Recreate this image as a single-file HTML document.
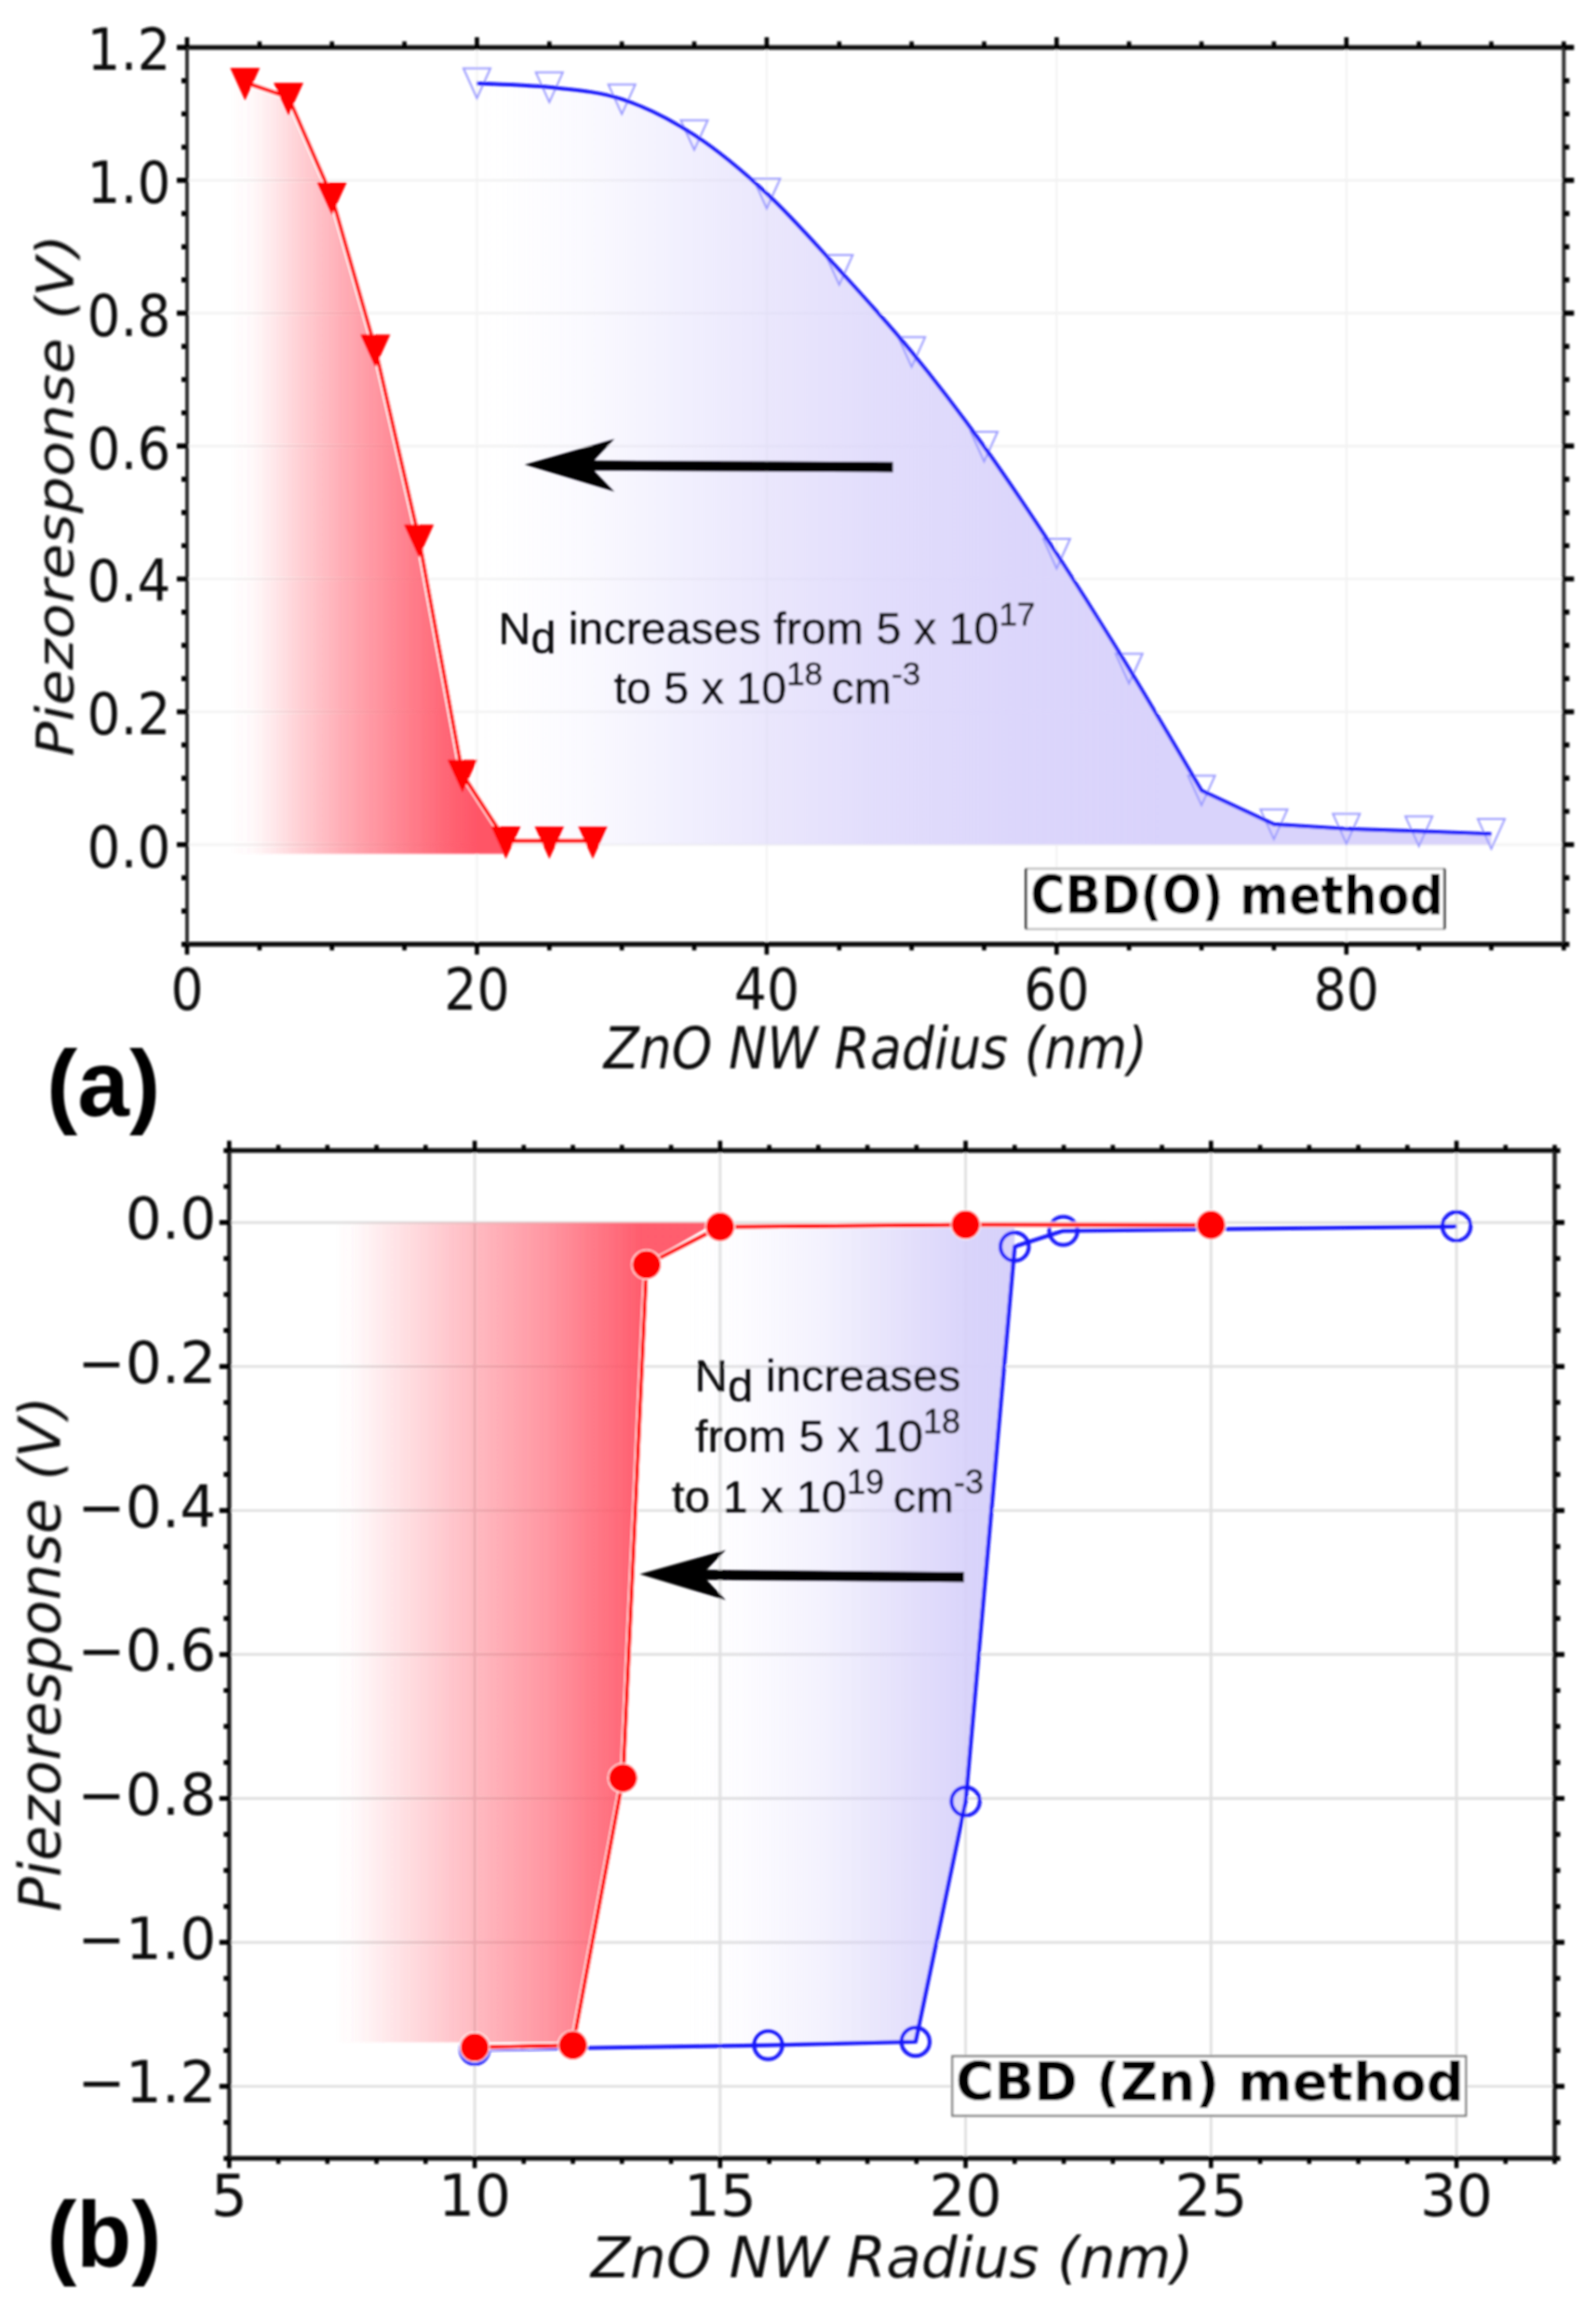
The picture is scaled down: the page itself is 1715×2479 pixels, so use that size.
<!DOCTYPE html>
<html lang="en"><head><meta charset="utf-8"><title>Piezoresponse vs ZnO NW Radius</title>
<style>
html,body{margin:0;padding:0;background:#fff;}
body{width:1715px;height:2479px;overflow:hidden;}
svg{display:block;}
.tk{font-family:"DejaVu Sans", "Liberation Sans", sans-serif;fill:#111;}
.lb{font-family:"DejaVu Sans", "Liberation Sans", sans-serif;font-style:italic;fill:#111;}
.an{font-family:"Liberation Sans", "DejaVu Sans", sans-serif;fill:#111;stroke:#111;stroke-width:0.5px;}
.bx{font-family:"DejaVu Sans", "Liberation Sans", sans-serif;font-weight:bold;fill:#000;}
.pl{font-family:"Liberation Sans","DejaVu Sans",sans-serif;font-weight:bold;fill:#000;}
</style></head><body>
<svg width="1715" height="2479" viewBox="0 0 1715 2479">
<defs>
<filter id="soft" filterUnits="userSpaceOnUse" x="0" y="0" width="1715" height="2479"><feGaussianBlur stdDeviation="0.8"/></filter>
<linearGradient id="gRa" gradientUnits="userSpaceOnUse" x1="247" y1="0" x2="515" y2="0"><stop offset="0" stop-color="#ff5466" stop-opacity="0"/><stop offset="0.09" stop-color="#ff5466" stop-opacity="0.035"/><stop offset="0.18" stop-color="#ff5466" stop-opacity="0.14"/><stop offset="0.275" stop-color="#ff5466" stop-opacity="0.27"/><stop offset="0.463" stop-color="#ff5466" stop-opacity="0.49"/><stop offset="0.679" stop-color="#ff5466" stop-opacity="0.71"/><stop offset="0.892" stop-color="#ff5466" stop-opacity="0.92"/><stop offset="1" stop-color="#ff5466" stop-opacity="1"/></linearGradient>
<linearGradient id="gBa" gradientUnits="userSpaceOnUse" x1="511" y1="0" x2="1300" y2="0"><stop offset="0" stop-color="#d9d3fb" stop-opacity="0"/><stop offset="0.06" stop-color="#d9d3fb" stop-opacity="0.03"/><stop offset="0.15" stop-color="#d9d3fb" stop-opacity="0.13"/><stop offset="0.25" stop-color="#d9d3fb" stop-opacity="0.3"/><stop offset="0.4" stop-color="#d9d3fb" stop-opacity="0.55"/><stop offset="0.54" stop-color="#d9d3fb" stop-opacity="0.75"/><stop offset="0.735" stop-color="#d9d3fb" stop-opacity="0.92"/><stop offset="0.93" stop-color="#d9d3fb" stop-opacity="1"/><stop offset="1" stop-color="#d9d3fb" stop-opacity="1"/></linearGradient>
<linearGradient id="gRb" gradientUnits="userSpaceOnUse" x1="360" y1="0" x2="690" y2="0"><stop offset="0" stop-color="#ff5466" stop-opacity="0"/><stop offset="0.06" stop-color="#ff5466" stop-opacity="0.03"/><stop offset="0.16" stop-color="#ff5466" stop-opacity="0.125"/><stop offset="0.45" stop-color="#ff5466" stop-opacity="0.4"/><stop offset="0.69" stop-color="#ff5466" stop-opacity="0.61"/><stop offset="0.955" stop-color="#ff5466" stop-opacity="0.9"/><stop offset="1" stop-color="#ff5466" stop-opacity="0.95"/></linearGradient>
<linearGradient id="gBb" gradientUnits="userSpaceOnUse" x1="740" y1="0" x2="1090" y2="0"><stop offset="0" stop-color="#d7d1fa" stop-opacity="0"/><stop offset="0.15" stop-color="#d7d1fa" stop-opacity="0.05"/><stop offset="0.42" stop-color="#d7d1fa" stop-opacity="0.3"/><stop offset="0.72" stop-color="#d7d1fa" stop-opacity="0.75"/><stop offset="0.875" stop-color="#d7d1fa" stop-opacity="0.95"/><stop offset="1" stop-color="#d7d1fa" stop-opacity="1"/></linearGradient>
</defs>
<rect width="1715" height="2479" fill="#fff"/>

<g filter="url(#soft)">
<g id="chartA">
<line x1="512.5" y1="51.0" x2="512.5" y2="1014.7" stroke="#f2f2f2" stroke-width="2"/>
<line x1="823.9" y1="51.0" x2="823.9" y2="1014.7" stroke="#f2f2f2" stroke-width="2"/>
<line x1="1135.4" y1="51.0" x2="1135.4" y2="1014.7" stroke="#f2f2f2" stroke-width="2"/>
<line x1="1446.8" y1="51.0" x2="1446.8" y2="1014.7" stroke="#f2f2f2" stroke-width="2"/>
<line x1="201.0" y1="907.6" x2="1680.4" y2="907.6" stroke="#f2f2f2" stroke-width="2.4"/>
<line x1="201.0" y1="764.9" x2="1680.4" y2="764.9" stroke="#f2f2f2" stroke-width="2.4"/>
<line x1="201.0" y1="622.1" x2="1680.4" y2="622.1" stroke="#f2f2f2" stroke-width="2.4"/>
<line x1="201.0" y1="479.3" x2="1680.4" y2="479.3" stroke="#f2f2f2" stroke-width="2.4"/>
<line x1="201.0" y1="336.5" x2="1680.4" y2="336.5" stroke="#f2f2f2" stroke-width="2.4"/>
<line x1="201.0" y1="193.8" x2="1680.4" y2="193.8" stroke="#f2f2f2" stroke-width="2.4"/>
<path d="M512.5 89.5C525.4 90.3 564.4 91.0 590.3 93.8C616.3 96.7 642.2 98.1 668.2 106.7C694.1 115.2 720.1 128.3 746.0 145.2C772.0 162.1 798.0 183.9 823.9 208.0C849.9 232.2 875.8 261.8 901.8 290.1C927.7 318.5 953.7 346.7 979.6 378.3C1005.6 409.9 1031.5 443.9 1057.5 480.0C1083.4 516.1 1109.4 555.2 1135.4 595.0C1161.3 634.7 1187.3 676.0 1213.2 718.5C1239.2 760.9 1278.1 827.6 1291.1 849.4L1368.9 885.8L1446.8 890.6L1524.7 893.3L1602.5 896.1L1602.5 907.6L512.5 907.6Z" fill="url(#gBa)"/>
<polygon points="243.7,88.5 259.3,88.5 306.0,104.5 352.7,211.6 399.4,375.1 446.2,579.3 492.9,832.0 539.6,903.6 541.6,917.5 243.7,917.5" fill="url(#gRa)"/>
<polygon points="498.0,73.5 527.0,73.5 512.5,105.5" fill="none" stroke="#9a9aff" stroke-width="2"/>
<polygon points="575.8,77.8 604.8,77.8 590.3,109.8" fill="none" stroke="#9a9aff" stroke-width="2"/>
<polygon points="653.7,90.7 682.7,90.7 668.2,122.7" fill="none" stroke="#9a9aff" stroke-width="2"/>
<polygon points="731.5,129.2 760.5,129.2 746.0,161.2" fill="none" stroke="#9a9aff" stroke-width="2"/>
<polygon points="809.4,192.0 838.4,192.0 823.9,224.0" fill="none" stroke="#9a9aff" stroke-width="2"/>
<polygon points="887.3,274.1 916.3,274.1 901.8,306.1" fill="none" stroke="#9a9aff" stroke-width="2"/>
<polygon points="965.1,362.3 994.1,362.3 979.6,394.3" fill="none" stroke="#9a9aff" stroke-width="2"/>
<polygon points="1043.0,464.0 1072.0,464.0 1057.5,496.0" fill="none" stroke="#9a9aff" stroke-width="2"/>
<polygon points="1120.9,579.0 1149.9,579.0 1135.4,611.0" fill="none" stroke="#9a9aff" stroke-width="2"/>
<polygon points="1198.7,702.5 1227.7,702.5 1213.2,734.5" fill="none" stroke="#9a9aff" stroke-width="2"/>
<polygon points="1276.6,833.4 1305.6,833.4 1291.1,865.4" fill="none" stroke="#9a9aff" stroke-width="2"/>
<polygon points="1354.4,869.8 1383.4,869.8 1368.9,901.8" fill="none" stroke="#9a9aff" stroke-width="2"/>
<polygon points="1432.3,874.6 1461.3,874.6 1446.8,906.6" fill="none" stroke="#9a9aff" stroke-width="2"/>
<polygon points="1510.2,877.3 1539.2,877.3 1524.7,909.3" fill="none" stroke="#9a9aff" stroke-width="2"/>
<polygon points="1588.0,880.1 1617.0,880.1 1602.5,912.1" fill="none" stroke="#9a9aff" stroke-width="2"/>
<path d="M512.5 89.5C525.4 90.3 564.4 91.0 590.3 93.8C616.3 96.7 642.2 98.1 668.2 106.7C694.1 115.2 720.1 128.3 746.0 145.2C772.0 162.1 798.0 183.9 823.9 208.0C849.9 232.2 875.8 261.8 901.8 290.1C927.7 318.5 953.7 346.7 979.6 378.3C1005.6 409.9 1031.5 443.9 1057.5 480.0C1083.4 516.1 1109.4 555.2 1135.4 595.0C1161.3 634.7 1187.3 676.0 1213.2 718.5C1239.2 760.9 1278.1 827.6 1291.1 849.4L1368.9 885.8L1446.8 890.6L1524.7 893.3L1602.5 896.1" fill="none" stroke="#1212fa" stroke-width="3.9" stroke-linejoin="round"/>
<polyline points="263.3,88.5 310.0,104.5 356.7,211.6 403.4,375.1 450.2,579.3 496.9,832.0 543.6,903.6 590.3,903.6 637.0,903.6" fill="none" stroke="#fff" stroke-width="6.4" stroke-linejoin="round"/>
<polyline points="263.3,88.5 310.0,104.5 356.7,211.6 403.4,375.1 450.2,579.3 496.9,832.0 543.6,903.6 590.3,903.6 637.0,903.6" fill="none" stroke="#ff0000" stroke-width="4.2" stroke-linejoin="round"/>
<polygon points="247.3,73.0 279.3,73.0 263.3,108.0" fill="#ff0000"/>
<polygon points="294.0,89.0 326.0,89.0 310.0,124.0" fill="#ff0000"/>
<polygon points="340.7,196.1 372.7,196.1 356.7,231.1" fill="#ff0000"/>
<polygon points="387.4,359.6 419.4,359.6 403.4,394.6" fill="#ff0000"/>
<polygon points="434.2,563.8 466.2,563.8 450.2,598.8" fill="#ff0000"/>
<polygon points="480.9,816.5 512.9,816.5 496.9,851.5" fill="#ff0000"/>
<polygon points="527.6,888.1 559.6,888.1 543.6,923.1" fill="#ff0000"/>
<polygon points="574.3,888.1 606.3,888.1 590.3,923.1" fill="#ff0000"/>
<polygon points="621.0,888.1 653.0,888.1 637.0,923.1" fill="#ff0000"/>
<path d="M199.0 51.0H1682.4M199.0 1014.7H1682.4" stroke="#111" stroke-width="5.2" fill="none"/>
<path d="M201.0 51.0V1014.7M1680.4 51.0V1014.7" stroke="#333" stroke-width="4" fill="none"/>
<path d="M201.0 51.0v-11M201.0 1014.7v11M278.9 51.0v-6.5M278.9 1014.7v6.5M356.7 51.0v-6.5M356.7 1014.7v6.5M434.6 51.0v-6.5M434.6 1014.7v6.5M512.5 51.0v-11M512.5 1014.7v11M590.3 51.0v-6.5M590.3 1014.7v6.5M668.2 51.0v-6.5M668.2 1014.7v6.5M746.0 51.0v-6.5M746.0 1014.7v6.5M823.9 51.0v-11M823.9 1014.7v11M901.8 51.0v-6.5M901.8 1014.7v6.5M979.6 51.0v-6.5M979.6 1014.7v6.5M1057.5 51.0v-6.5M1057.5 1014.7v6.5M1135.4 51.0v-11M1135.4 1014.7v11M1213.2 51.0v-6.5M1213.2 1014.7v6.5M1291.1 51.0v-6.5M1291.1 1014.7v6.5M1368.9 51.0v-6.5M1368.9 1014.7v6.5M1446.8 51.0v-11M1446.8 1014.7v11M1524.7 51.0v-6.5M1524.7 1014.7v6.5M1602.5 51.0v-6.5M1602.5 1014.7v6.5M1680.4 51.0v-6.5M1680.4 1014.7v6.5" stroke="#000" stroke-width="4.6" fill="none"/>
<path d="M201.0 1014.7h-6M1680.4 1014.7h6M201.0 979.0h-6M1680.4 979.0h6M201.0 943.3h-6M1680.4 943.3h6M201.0 907.6h-11M1680.4 907.6h11M201.0 871.9h-6M1680.4 871.9h6M201.0 836.2h-6M1680.4 836.2h6M201.0 800.5h-6M1680.4 800.5h6M201.0 764.9h-11M1680.4 764.9h11M201.0 729.2h-6M1680.4 729.2h6M201.0 693.5h-6M1680.4 693.5h6M201.0 657.8h-6M1680.4 657.8h6M201.0 622.1h-11M1680.4 622.1h11M201.0 586.4h-6M1680.4 586.4h6M201.0 550.7h-6M1680.4 550.7h6M201.0 515.0h-6M1680.4 515.0h6M201.0 479.3h-11M1680.4 479.3h11M201.0 443.6h-6M1680.4 443.6h6M201.0 407.9h-6M1680.4 407.9h6M201.0 372.2h-6M1680.4 372.2h6M201.0 336.5h-11M1680.4 336.5h11M201.0 300.8h-6M1680.4 300.8h6M201.0 265.2h-6M1680.4 265.2h6M201.0 229.5h-6M1680.4 229.5h6M201.0 193.8h-11M1680.4 193.8h11M201.0 158.1h-6M1680.4 158.1h6M201.0 122.4h-6M1680.4 122.4h6M201.0 86.7h-6M1680.4 86.7h6M201.0 51.0h-11M1680.4 51.0h11" stroke="#000" stroke-width="5.4" fill="none"/>
<text class="tk" font-size="62.5" transform="translate(201.0,1084.5) scale(0.885,1)" text-anchor="middle">0</text>
<text class="tk" font-size="62.5" transform="translate(512.5,1084.5) scale(0.885,1)" text-anchor="middle">20</text>
<text class="tk" font-size="62.5" transform="translate(823.9,1084.5) scale(0.885,1)" text-anchor="middle">40</text>
<text class="tk" font-size="62.5" transform="translate(1135.4,1084.5) scale(0.885,1)" text-anchor="middle">60</text>
<text class="tk" font-size="62.5" transform="translate(1446.8,1084.5) scale(0.885,1)" text-anchor="middle">80</text>
<text class="tk" font-size="62.5" transform="translate(183.5,931.8) scale(0.905,1)" text-anchor="end">0.0</text>
<text class="tk" font-size="62.5" transform="translate(183.5,789.1) scale(0.905,1)" text-anchor="end">0.2</text>
<text class="tk" font-size="62.5" transform="translate(183.5,646.3) scale(0.905,1)" text-anchor="end">0.4</text>
<text class="tk" font-size="62.5" transform="translate(183.5,503.5) scale(0.905,1)" text-anchor="end">0.6</text>
<text class="tk" font-size="62.5" transform="translate(183.5,360.7) scale(0.905,1)" text-anchor="end">0.8</text>
<text class="tk" font-size="62.5" transform="translate(183.5,218.0) scale(0.905,1)" text-anchor="end">1.0</text>
<text class="tk" font-size="62.5" transform="translate(183.5,75.2) scale(0.905,1)" text-anchor="end">1.2</text>
<text class="lb" font-size="62.5" transform="translate(940.8,1147.5) scale(0.885,1)" text-anchor="middle">ZnO NW Radius (nm)</text>
<text class="lb" font-size="62.5" transform="translate(78.5,532.5) scale(0.885,1) rotate(-90)" text-anchor="middle">Piezoresponse (V)</text>
<line x1="959.5" y1="501.9" x2="630" y2="500.3" stroke="#000" stroke-width="11"/>
<path d="M563.5 499.3 L660.5 471.6 L638.5 494.8 L638.5 505.8 L660.5 528.4 Z" fill="#000"/>
<text class="an" font-size="48.4" x="535.5" y="691.7">N<tspan dy="10.7">d</tspan><tspan dy="-10.7"> increases from 5 x 10</tspan><tspan dy="-20" font-size="35">17</tspan></text>
<text class="an" font-size="48.4" x="659.5" y="756.3">to 5 x 10<tspan dy="-20" font-size="35">18</tspan><tspan dy="20" dx="-4"> cm</tspan><tspan dy="-20" font-size="35">-3</tspan></text>
<rect x="1102.6" y="933.5" width="449.5" height="64.8" fill="#fff" stroke="#b4b4b4" stroke-width="2"/>
<path d="M1102.6 933.5v64.8M1552.1 933.5v64.8" stroke="#111" stroke-width="2.4" fill="none"/>
<text class="bx" font-size="56.6" transform="translate(1107.3,981.7) scale(0.896,1)" text-anchor="start">CBD(O) method</text>
<text class="pl" font-size="100" x="50" y="1199">(a)</text>
</g>
<g id="chartB">
<line x1="510.1" y1="1236.3" x2="510.1" y2="2319.3" stroke="#e0e0e0" stroke-width="2.9"/>
<line x1="773.8" y1="1236.3" x2="773.8" y2="2319.3" stroke="#e0e0e0" stroke-width="2.9"/>
<line x1="1037.6" y1="1236.3" x2="1037.6" y2="2319.3" stroke="#e0e0e0" stroke-width="2.9"/>
<line x1="1301.3" y1="1236.3" x2="1301.3" y2="2319.3" stroke="#e0e0e0" stroke-width="2.9"/>
<line x1="1565.1" y1="1236.3" x2="1565.1" y2="2319.3" stroke="#e0e0e0" stroke-width="2.9"/>
<line x1="246.3" y1="1313.7" x2="1670.6" y2="1313.7" stroke="#e0e0e0" stroke-width="2.9"/>
<line x1="246.3" y1="1468.4" x2="1670.6" y2="1468.4" stroke="#e0e0e0" stroke-width="2.9"/>
<line x1="246.3" y1="1623.1" x2="1670.6" y2="1623.1" stroke="#e0e0e0" stroke-width="2.9"/>
<line x1="246.3" y1="1777.8" x2="1670.6" y2="1777.8" stroke="#e0e0e0" stroke-width="2.9"/>
<line x1="246.3" y1="1932.5" x2="1670.6" y2="1932.5" stroke="#e0e0e0" stroke-width="2.9"/>
<line x1="246.3" y1="2087.2" x2="1670.6" y2="2087.2" stroke="#e0e0e0" stroke-width="2.9"/>
<line x1="246.3" y1="2241.9" x2="1670.6" y2="2241.9" stroke="#e0e0e0" stroke-width="2.9"/>
<polygon points="615.6,2197.8 825.5,2197.6 983.8,2194.0 1037.6,1935.6 1090.3,1339.6 1090.3,1316.8 694.7,1316.8" fill="url(#gBb)"/>
<polygon points="325.4,2194.4 612.9,2194.4 666.2,1910.6 691.5,1358.9 768.5,1313.7 325.4,1313.7" fill="url(#gRb)"/>
<polyline points="510.1,2202.5 825.5,2197.6 983.8,2194.0 1037.6,1935.6 1090.3,1339.6 1142.6,1322.6 1565.1,1317.8" fill="none" stroke="#1212fa" stroke-width="4.2" stroke-linejoin="round"/>
<circle cx="510.1" cy="2202.5" r="15.2" fill="none" stroke="#1212fa" stroke-width="4"/>
<circle cx="825.5" cy="2197.6" r="15.2" fill="none" stroke="#1212fa" stroke-width="4"/>
<circle cx="983.8" cy="2194.0" r="15.2" fill="none" stroke="#1212fa" stroke-width="4"/>
<circle cx="1037.6" cy="1935.6" r="15.2" fill="none" stroke="#1212fa" stroke-width="4"/>
<circle cx="1090.3" cy="1339.6" r="15.2" fill="none" stroke="#1212fa" stroke-width="4"/>
<circle cx="1142.6" cy="1322.6" r="15.2" fill="none" stroke="#1212fa" stroke-width="4"/>
<circle cx="1565.1" cy="1317.8" r="15.2" fill="none" stroke="#1212fa" stroke-width="4"/>
<polyline points="510.1,2199.9 615.6,2197.8 669.4,1910.6 694.7,1358.9 773.8,1318.3 1037.6,1316.0 1301.3,1316.2" fill="none" stroke="#fff" stroke-width="6.6" stroke-linejoin="round"/>
<polyline points="510.1,2199.9 615.6,2197.8 669.4,1910.6 694.7,1358.9 773.8,1318.3 1037.6,1316.0 1301.3,1316.2" fill="none" stroke="#ff0000" stroke-width="4.4" stroke-linejoin="round"/>
<circle cx="510.1" cy="2199.9" r="15.8" fill="#ff0000" stroke="#fff" stroke-width="1.2"/>
<circle cx="615.6" cy="2197.8" r="15.8" fill="#ff0000" stroke="#fff" stroke-width="1.2"/>
<circle cx="669.4" cy="1910.6" r="15.8" fill="#ff0000" stroke="#fff" stroke-width="1.2"/>
<circle cx="694.7" cy="1358.9" r="15.8" fill="#ff0000" stroke="#fff" stroke-width="1.2"/>
<circle cx="773.8" cy="1318.3" r="15.8" fill="#ff0000" stroke="#fff" stroke-width="1.2"/>
<circle cx="1037.6" cy="1316.0" r="15.8" fill="#ff0000" stroke="#fff" stroke-width="1.2"/>
<circle cx="1301.3" cy="1316.2" r="15.8" fill="#ff0000" stroke="#fff" stroke-width="1.2"/>
<path d="M244.3 1236.3H1672.6M244.3 2319.3H1672.6" stroke="#111" stroke-width="5" fill="none"/>
<path d="M246.3 1236.3V2319.3M1670.6 1236.3V2319.3" stroke="#222" stroke-width="4.6" fill="none"/>
<path d="M246.3 1236.3v-10.5M246.3 2319.3v10.5M299.1 1236.3v-6M299.1 2319.3v6M351.8 1236.3v-6M351.8 2319.3v6M404.6 1236.3v-6M404.6 2319.3v6M457.3 1236.3v-6M457.3 2319.3v6M510.1 1236.3v-10.5M510.1 2319.3v10.5M562.8 1236.3v-6M562.8 2319.3v6M615.6 1236.3v-6M615.6 2319.3v6M668.3 1236.3v-6M668.3 2319.3v6M721.1 1236.3v-6M721.1 2319.3v6M773.8 1236.3v-10.5M773.8 2319.3v10.5M826.6 1236.3v-6M826.6 2319.3v6M879.3 1236.3v-6M879.3 2319.3v6M932.1 1236.3v-6M932.1 2319.3v6M984.8 1236.3v-6M984.8 2319.3v6M1037.6 1236.3v-10.5M1037.6 2319.3v10.5M1090.3 1236.3v-6M1090.3 2319.3v6M1143.1 1236.3v-6M1143.1 2319.3v6M1195.8 1236.3v-6M1195.8 2319.3v6M1248.6 1236.3v-6M1248.6 2319.3v6M1301.3 1236.3v-10.5M1301.3 2319.3v10.5M1354.1 1236.3v-6M1354.1 2319.3v6M1406.8 1236.3v-6M1406.8 2319.3v6M1459.6 1236.3v-6M1459.6 2319.3v6M1512.3 1236.3v-6M1512.3 2319.3v6M1565.1 1236.3v-10.5M1565.1 2319.3v10.5M1617.8 1236.3v-6M1617.8 2319.3v6M1670.6 1236.3v-6M1670.6 2319.3v6" stroke="#000" stroke-width="4.6" fill="none"/>
<path d="M246.3 2319.3h-6M1670.6 2319.3h6M246.3 2280.6h-6M1670.6 2280.6h6M246.3 2241.9h-10.5M1670.6 2241.9h10.5M246.3 2203.3h-6M1670.6 2203.3h6M246.3 2164.6h-6M1670.6 2164.6h6M246.3 2125.9h-6M1670.6 2125.9h6M246.3 2087.2h-10.5M1670.6 2087.2h10.5M246.3 2048.6h-6M1670.6 2048.6h6M246.3 2009.9h-6M1670.6 2009.9h6M246.3 1971.2h-6M1670.6 1971.2h6M246.3 1932.5h-10.5M1670.6 1932.5h10.5M246.3 1893.8h-6M1670.6 1893.8h6M246.3 1855.2h-6M1670.6 1855.2h6M246.3 1816.5h-6M1670.6 1816.5h6M246.3 1777.8h-10.5M1670.6 1777.8h10.5M246.3 1739.1h-6M1670.6 1739.1h6M246.3 1700.4h-6M1670.6 1700.4h6M246.3 1661.8h-6M1670.6 1661.8h6M246.3 1623.1h-10.5M1670.6 1623.1h10.5M246.3 1584.4h-6M1670.6 1584.4h6M246.3 1545.7h-6M1670.6 1545.7h6M246.3 1507.0h-6M1670.6 1507.0h6M246.3 1468.4h-10.5M1670.6 1468.4h10.5M246.3 1429.7h-6M1670.6 1429.7h6M246.3 1391.0h-6M1670.6 1391.0h6M246.3 1352.3h-6M1670.6 1352.3h6M246.3 1313.7h-10.5M1670.6 1313.7h10.5M246.3 1275.0h-6M1670.6 1275.0h6M246.3 1236.3h-6M1670.6 1236.3h6" stroke="#000" stroke-width="5.2" fill="none"/>
<text class="tk" font-size="61.5" x="246.3" y="2381.0" text-anchor="middle">5</text>
<text class="tk" font-size="61.5" x="510.1" y="2381.0" text-anchor="middle">10</text>
<text class="tk" font-size="61.5" x="773.8" y="2381.0" text-anchor="middle">15</text>
<text class="tk" font-size="61.5" x="1037.6" y="2381.0" text-anchor="middle">20</text>
<text class="tk" font-size="61.5" x="1301.3" y="2381.0" text-anchor="middle">25</text>
<text class="tk" font-size="61.5" x="1565.1" y="2381.0" text-anchor="middle">30</text>
<text class="tk" font-size="61.5" x="232.5" y="1331.2" text-anchor="end">0.0</text>
<text class="tk" font-size="61.5" x="232.5" y="1485.9" text-anchor="end">−0.2</text>
<text class="tk" font-size="61.5" x="232.5" y="1640.6" text-anchor="end">−0.4</text>
<text class="tk" font-size="61.5" x="232.5" y="1795.3" text-anchor="end">−0.6</text>
<text class="tk" font-size="61.5" x="232.5" y="1950.0" text-anchor="end">−0.8</text>
<text class="tk" font-size="61.5" x="232.5" y="2104.7" text-anchor="end">−1.0</text>
<text class="tk" font-size="61.5" x="232.5" y="2259.4" text-anchor="end">−1.2</text>
<text class="lb" font-size="61.3" x="958.7" y="2446.5" text-anchor="middle">ZnO NW Radius (nm)</text>
<text class="lb" font-size="61.7" transform="translate(64.5,1777.2) rotate(-90)" text-anchor="middle">Piezoresponse (V)</text>
<line x1="1036" y1="1694.8" x2="750" y2="1692.3" stroke="#000" stroke-width="11"/>
<path d="M687.3 1691.5 L780 1665.4 L759.5 1686.8 L759.5 1697.8 L780 1719.4 Z" fill="#000"/>
<text class="an" font-size="49" x="889.5" y="1495.2" text-anchor="middle">N<tspan dy="10.4">d</tspan><tspan dy="-10.4"> increases</tspan></text>
<text class="an" font-size="49" x="889.5" y="1560.2" text-anchor="middle">from 5 x 10<tspan dy="-20" font-size="36">18</tspan></text>
<text class="an" font-size="49" x="889.5" y="1624.5" text-anchor="middle">to 1 x 10<tspan dy="-20" font-size="36">19</tspan><tspan dy="20" dx="-4"> cm</tspan><tspan dy="-20" font-size="36">-3</tspan></text>
<rect x="1023.3" y="2209.5" width="551.9" height="64" fill="#fff" stroke="#777" stroke-width="2.2"/>
<text class="bx" font-size="56.4" x="1027.0" y="2256.9" text-anchor="start">CBD (Zn) method</text>
<text class="pl" font-size="100" transform="translate(50.2,2435.5) scale(0.966,1)">(b)</text>
</g>
</g>
</svg></body></html>
